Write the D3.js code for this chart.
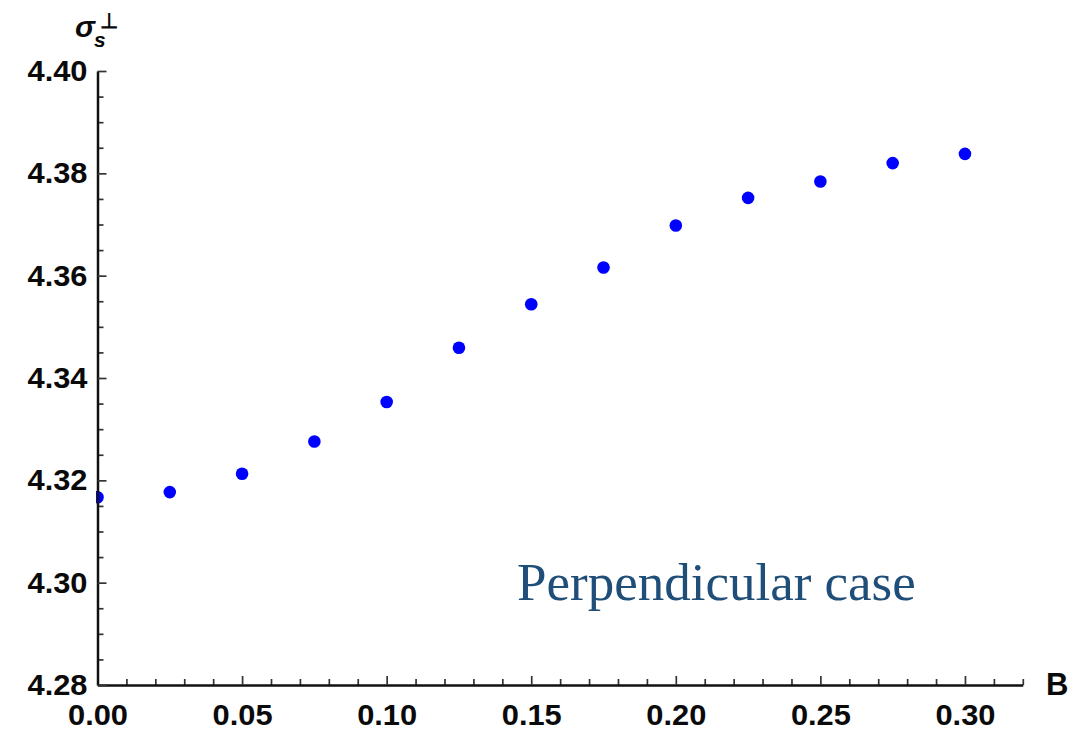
<!DOCTYPE html>
<html>
<head>
<meta charset="utf-8">
<script src="https://cdn.jsdelivr.net/npm/d3@7"></script>
<style>
  html, body { margin: 0; padding: 0; background: #fff; }
  svg { display: block; }
</style>
</head>
<body>
<svg id="chart" width="1092" height="734"></svg>
<script>
// ---- data ----
const B = [0.000, 0.025, 0.050, 0.075, 0.100, 0.125, 0.150, 0.175, 0.200, 0.225, 0.250, 0.275, 0.300];
const sigma = [4.3167, 4.3177, 4.3213, 4.3276, 4.3353, 4.3459, 4.3544, 4.3616, 4.3698, 4.3752, 4.3784, 4.3820, 4.3838];
const xMajorTicks = [0.00, 0.05, 0.10, 0.15, 0.20, 0.25, 0.30];
const xMinorTicks = [0.01, 0.02, 0.03, 0.04, 0.06, 0.07, 0.08, 0.09, 0.11, 0.12, 0.13, 0.14, 0.16, 0.17, 0.18, 0.19, 0.21, 0.22, 0.23, 0.24, 0.26, 0.27, 0.28, 0.29, 0.31, 0.32];
const yMajorTicks = [4.28, 4.30, 4.32, 4.34, 4.36, 4.38, 4.40];
const yMinorTicks = [4.285, 4.29, 4.295, 4.305, 4.31, 4.315, 4.325, 4.33, 4.335, 4.345, 4.35, 4.355, 4.365, 4.37, 4.375, 4.385, 4.39, 4.395];

const svg = d3.select("#chart");
svg.append("rect").attr("width", 1092).attr("height", 734).attr("fill", "#fff");

const x = d3.scaleLinear().domain([0, 0.32]).range([97.5, 1022.8]);
const y = d3.scaleLinear().domain([4.28, 4.40]).range([685, 71]);

const fontAxis = "'Liberation Sans', Arial, sans-serif";

// clip
svg.append("defs").append("clipPath").attr("id", "plotClip")
  .append("rect").attr("x", 96).attr("y", 40).attr("width", 1000).attr("height", 660);

// points
svg.append("g").attr("clip-path", "url(#plotClip)")
  .selectAll("circle").data(B).join("circle")
  .attr("cx", d => x(d))
  .attr("cy", (d, i) => y(sigma[i]))
  .attr("r", 6.3)
  .attr("fill", "#0000ff");

function styleAxis(g) {
  g.selectAll(".tick line").attr("stroke", "#333").attr("stroke-width", 1.7);
  g.selectAll("text")
    .attr("font-family", fontAxis)
    .attr("font-weight", "bold")
    .attr("font-size", 30)
    .attr("fill", "#0a0a0a")
    .attr("textLength", 60)
    .attr("lengthAdjust", "spacingAndGlyphs");
}

// x axis minor
svg.append("g").attr("transform", "translate(0,685)")
  .call(d3.axisBottom(x).tickValues(xMinorTicks).tickSize(-6).tickSizeOuter(0).tickFormat(""))
  .call(g => g.select(".domain").remove())
  .call(styleAxis);
// x axis major
svg.append("g").attr("transform", "translate(0,685)")
  .call(d3.axisBottom(x).tickValues(xMajorTicks).tickSize(-9).tickSizeOuter(0).tickPadding(19).tickFormat(d3.format(".2f")))
  .call(g => g.select(".domain").attr("stroke", "#111").attr("stroke-width", 2.5))
  .call(styleAxis);

// y axis minor
svg.append("g").attr("transform", "translate(97.5,0)")
  .call(d3.axisLeft(y).tickValues(yMinorTicks).tickSize(-6).tickSizeOuter(0).tickFormat(""))
  .call(g => g.select(".domain").remove())
  .call(styleAxis);
// y axis major
svg.append("g").attr("transform", "translate(97.5,0)")
  .call(d3.axisLeft(y).tickValues(yMajorTicks).tickSize(-9).tickSizeOuter(0).tickPadding(10).tickFormat(d3.format(".2f")))
  .call(g => g.select(".domain").attr("stroke", "#111").attr("stroke-width", 2.5))
  .call(styleAxis);

// axis labels
svg.append("text")
  .attr("x", 1046).attr("y", 695)
  .attr("font-family", fontAxis).attr("font-weight", "bold").attr("font-size", 31)
  .attr("fill", "#0a0a0a")
  .text("B");

const yl = svg.append("text")
  .attr("x", 75).attr("y", 37)
  .attr("font-family", fontAxis).attr("font-weight", "bold").attr("font-style", "italic")
  .attr("fill", "#0a0a0a");
yl.append("tspan").attr("font-size", 30).text("σ");
yl.append("tspan").attr("font-size", 21).attr("dy", 10).attr("dx", -1).text("s");
yl.append("tspan").attr("font-size", 21).attr("font-style", "normal").attr("x", 100).attr("y", 28).text("⊥");

// annotation
svg.append("text")
  .attr("x", 517).attr("y", 600)
  .attr("font-family", "'Liberation Serif', 'Times New Roman', serif")
  .attr("font-size", 53)
  .attr("fill", "#1f4e79")
  .text("Perpendicular case");
</script>
</body>
</html>
